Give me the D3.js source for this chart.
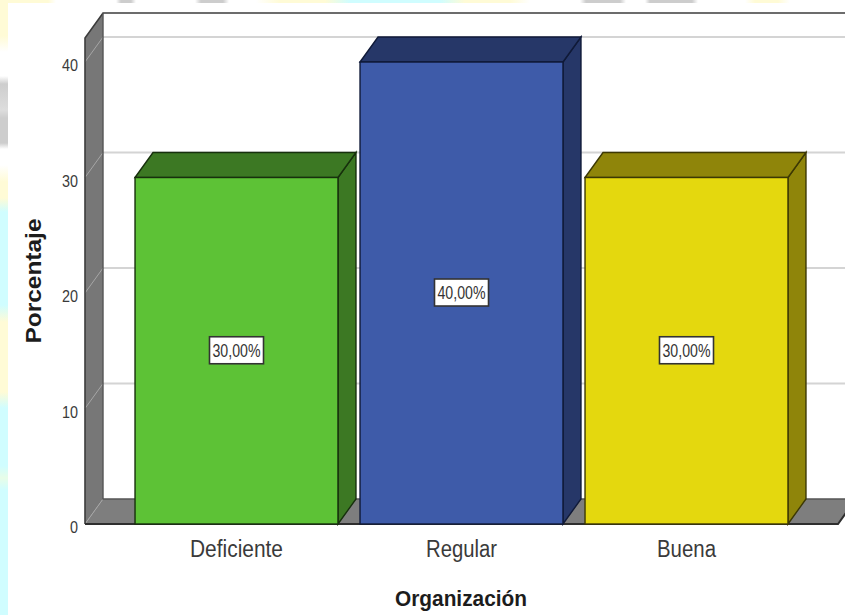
<!DOCTYPE html>
<html lang="es">
  <head>
    <meta charset="utf-8">
    <title>Organización</title>
    <script src="https://d3js.org/d3.v7.min.js"></script>
    <style>
      html, body { margin: 0; padding: 0; background: #fff; overflow: hidden; }
      text { font-family: "Liberation Sans", Arial, sans-serif; }
    </style>
  </head>
  <body>
    <script type="text/javascript">

    // chart values
    var categories = ["Deficiente", "Regular", "Buena"];
    var percentages = [30, 40, 30];
    var yTicks = [0, 10, 20, 30, 40];
    var frontColors = ["#5dc236", "#3e5ba9", "#e4d80e"];
    var sideColors = ["#3c7823", "#263768", "#8f850a"];
    var edgeColors = ["#17300d", "#101a38", "#3c3804"];
    var xLabel = "Organización";
    var yLabel = "Porcentaje";

    var w = 845, h = 615;
    // 3d offset of the back plane
    var depthX = 18, depthY = 25;

    var svg = d3.select("body").append("svg")
      .attr("width", w)
      .attr("height", h)
      .style("display", "block");

    // scales work on the front plane
    var xScale = d3.scaleBand()
      .domain(categories)
      .range([124, 799])
      .paddingInner(0.098)
      .paddingOuter(0.049);

    var yScale = d3.scaleLinear()
      .domain([0, 42.08])
      .range([524, 38]);

    var wallLeft = 85, wallRight = 838;
    var yBase = yScale(0), yTop = yScale.range()[1];

    // page backdrop showing along the left and top edges, as soft gradients
    var defs = svg.append("defs");
    var addGradient = function(id, vertical, size, stops) {
      var lg = defs.append("linearGradient")
        .attr("id", id)
        .attr("x1", 0).attr("y1", 0)
        .attr("x2", vertical ? 0 : 1).attr("y2", vertical ? 1 : 0);
      stops.forEach(function(s) {
        lg.append("stop").attr("offset", s[0] / size).attr("stop-color", s[1]);
      });
    };
    var grey = "#cdcdcd", yellow = "#fffbd6", cyan = "#d0fdff", white = "#ffffff";
    addGradient("edgeLeft", true, h, [
      [0, yellow], [36, yellow], [52, white], [76, white], [84, grey], [110, "#dddddd"], [118, grey], [143, grey], [149, white],
      [165, white], [182, yellow], [198, yellow], [212, cyan], [305, cyan], [322, yellow], [392, yellow], [408, cyan],
      [466, cyan], [478, "#e8fde8"], [490, cyan], [h, cyan]
    ]);
    addGradient("edgeTop", false, w, [
      [0, yellow], [48, yellow], [56, white], [116, white], [121, grey], [131, grey], [136, white], [195, white], [201, grey], [223, grey],
      [229, white], [256, white], [280, yellow], [325, yellow], [350, cyan], [440, cyan], [465, yellow], [510, yellow], [530, white],
      [580, white], [586, grey], [620, grey], [626, white], [645, white], [650, grey], [692, grey], [698, white], [745, white],
      [755, yellow], [778, yellow], [790, white], [w, white]
    ]);
    svg.append("rect").attr("x", 0).attr("y", 0).attr("width", 8).attr("height", h).attr("fill", "url(#edgeLeft)");
    svg.append("rect").attr("x", 0).attr("y", 0).attr("width", w).attr("height", 3).attr("fill", "url(#edgeTop)");

    // grey side wall and floor
    var pt = function(a) { return a.join(","); };
    svg.append("polygon")
      .attr("points", [[wallLeft, yTop], [wallLeft + depthX, yTop - depthY], [wallLeft + depthX, yBase - depthY], [wallLeft, yBase]].map(pt).join(" "))
      .attr("fill", "#777777");
    svg.append("polygon")
      .attr("points", [[wallLeft, yBase], [wallLeft + depthX, yBase - depthY], [wallRight + depthX, yBase - depthY], [wallRight, yBase]].map(pt).join(" "))
      .attr("fill", "#7e7e7e");

    // gridlines on the back plane, bent round the side wall
    var grid = svg.append("g");
    grid.selectAll("line.back")
      .data(yTicks.slice(1))
      .enter().append("line")
      .attr("class", "back")
      .attr("x1", wallLeft + depthX)
      .attr("x2", w)
      .attr("y1", function(d) { return yScale(d) - depthY; })
      .attr("y2", function(d) { return yScale(d) - depthY; })
      .attr("stroke", "#d4d4d4")
      .attr("stroke-width", 2);
    grid.selectAll("line.side")
      .data(yTicks)
      .enter().append("line")
      .attr("class", "side")
      .attr("x1", wallLeft)
      .attr("x2", wallLeft + depthX)
      .attr("y1", function(d) { return yScale(d); })
      .attr("y2", function(d) { return yScale(d) - depthY; })
      .attr("stroke", "#a6a6a6")
      .attr("stroke-width", 1);

    // frame lines
    var frame = svg.append("g").attr("fill", "none");
    frame.append("path")
      .attr("d", "M" + wallLeft + "," + yBase + "V" + yTop + "L" + (wallLeft + depthX) + "," + (yTop - depthY) + "H" + w)
      .attr("stroke", "#3c3c3c")
      .attr("stroke-width", 1.6);
    frame.append("path")
      .attr("d", "M" + (wallLeft + depthX) + "," + (yTop - depthY) + "V" + (yBase - depthY) + "H" + w)
      .attr("stroke", "#555555")
      .attr("stroke-width", 1.4);
    frame.append("path")
      .attr("d", "M" + wallLeft + "," + yBase + "H" + wallRight + "L" + (wallRight + depthX) + "," + (yBase - depthY))
      .attr("stroke", "#2e2e2e")
      .attr("stroke-width", 2);

    // bars: side face, top face, front face
    var bars = svg.selectAll("g.bar")
      .data(categories)
      .enter().append("g")
      .attr("class", "bar");

    bars.each(function(d, i) {
      var g = d3.select(this);
      var x0 = xScale(d), x1 = x0 + xScale.bandwidth();
      var yv = yScale(percentages[i]);

      g.append("polygon")
        .attr("points", [[x1, yv], [x1 + depthX, yv - depthY], [x1 + depthX, yBase - depthY], [x1, yBase]].map(pt).join(" "))
        .attr("fill", sideColors[i])
        .attr("stroke", edgeColors[i])
        .attr("stroke-width", 1.4);
      g.append("polygon")
        .attr("points", [[x0, yv], [x0 + depthX, yv - depthY], [x1 + depthX, yv - depthY], [x1, yv]].map(pt).join(" "))
        .attr("fill", sideColors[i])
        .attr("stroke", edgeColors[i])
        .attr("stroke-width", 1.4);
      g.append("rect")
        .attr("x", x0)
        .attr("y", yv)
        .attr("width", x1 - x0)
        .attr("height", yBase - yv)
        .attr("fill", frontColors[i])
        .attr("stroke", edgeColors[i])
        .attr("stroke-width", 1.4);

      // value label in the middle of the front face
      var cx = (x0 + x1) / 2, cy = yScale(percentages[i] / 2);
      g.append("rect")
        .attr("x", cx - 27)
        .attr("y", cy - 14)
        .attr("width", 54)
        .attr("height", 27)
        .attr("fill", "#fff")
        .attr("stroke", "#333")
        .attr("stroke-width", 1.6);
      g.append("text")
        .attr("x", cx)
        .attr("y", cy + 6)
        .attr("text-anchor", "middle")
        .attr("font-size", 17.5)
        .attr("textLength", 48)
        .attr("lengthAdjust", "spacingAndGlyphs")
        .attr("fill", "#333")
        .text(d3.format(".2f")(percentages[i]).replace(".", ",") + "%");
    });

    // y axis, labels only
    var yAxis = d3.axisLeft(yScale).tickValues(yTicks).tickSize(0).tickPadding(7);
    var yAxisG = svg.append("g")
      .attr("transform", "translate(" + wallLeft + ",0)")
      .call(yAxis);
    yAxisG.select(".domain").remove();
    yAxisG.selectAll("text")
      .attr("font-family", null)
      .attr("font-size", 16.5)
      .attr("fill", "#3a3a3a")
      .attr("dy", "0.54em")
      .attr("lengthAdjust", "spacingAndGlyphs")
      .attr("textLength", function(d) { return d === 0 ? 8 : 16; });

    // x axis, labels only
    var xAxis = d3.axisBottom(xScale).tickSize(0).tickPadding(0);
    var xAxisG = svg.append("g")
      .attr("transform", "translate(0," + yBase + ")")
      .call(xAxis);
    xAxisG.select(".domain").remove();
    xAxisG.selectAll("text")
      .attr("font-family", null)
      .attr("font-size", 23)
      .attr("fill", "#3a3a3a")
      .attr("y", 33)
      .attr("dy", null)
      .attr("lengthAdjust", "spacingAndGlyphs")
      .attr("textLength", function(d) { return { "Deficiente": 93, "Regular": 71, "Buena": 59 }[d]; });

    svg.append("text")
      .attr("x", 461)
      .attr("y", 606)
      .attr("text-anchor", "middle")
      .attr("font-size", 22)
      .attr("font-weight", "bold")
      .attr("textLength", 132)
      .attr("lengthAdjust", "spacingAndGlyphs")
      .attr("fill", "#1c1c1c")
      .text(xLabel);

    svg.append("text")
      .attr("transform", "translate(41,281) rotate(-90)")
      .attr("text-anchor", "middle")
      .attr("font-size", 22)
      .attr("font-weight", "bold")
      .attr("textLength", 125)
      .attr("lengthAdjust", "spacingAndGlyphs")
      .attr("fill", "#1c1c1c")
      .text(yLabel);

    </script>
  </body>
</html>
